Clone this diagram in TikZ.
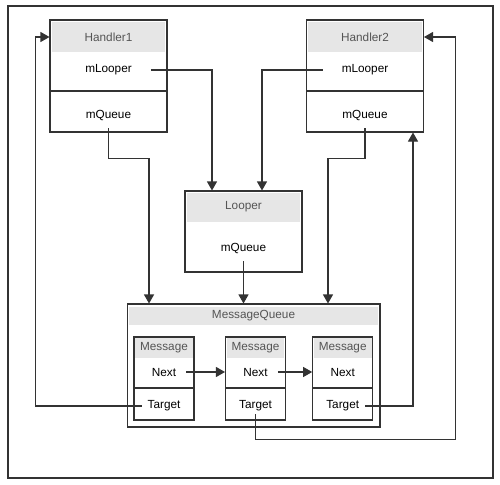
\documentclass[tikz,border=0pt]{standalone}
\usepackage{fontspec}
\setmainfont{Liberation Sans}
\usepackage{tikz}
\usetikzlibrary{arrows.meta}
\definecolor{ink}{HTML}{333333}
\definecolor{hdr}{HTML}{E6E6E6}
\definecolor{hdrtext}{HTML}{555555}
\begin{document}
\begin{tikzpicture}[x=0.02cm,y=-0.02cm,font=\fontsize{6.7}{8}\selectfont,
    box/.style={draw=ink,line width=.6pt,inner sep=0},
    head/.style={fill=hdr,text=hdrtext,inner sep=0},
    field/.style={inner sep=0,minimum width=1.68cm,minimum height=.52cm},
    slot/.style={inner sep=0,minimum width=.88cm,minimum height=.32cm},
    link/.style={draw=ink,line width=.6pt},
    tip/.style={link,-{Triangle[length=1.8mm,width=2mm]}}]
  \useasboundingbox (0,0) rectangle (500,484);
  \draw[link] (8,6) rectangle (493,478);
  % handlers
  \node[head,minimum width=2.28cm,minimum height=.6cm] (h1h) at (108.5,37) {Handler1};
  \node[box,minimum width=2.34cm,minimum height=1.42cm] (h1) at (108.5,55.5) {};
  \node[box,minimum width=2.34cm,minimum height=.82cm] (h1b) at (108.5,111.5) {};
  \node[field] (h1l) at (108.5,70) {mLooper};
  \node[field] (h1q) at (108.5,115) {mQueue};
  \node[head,minimum width=2.28cm,minimum height=.6cm] (h2h) at (365,37) {Handler2};
  \node[box,minimum width=2.34cm,minimum height=1.42cm] (h2) at (365,55.5) {};
  \node[box,minimum width=2.34cm,minimum height=.82cm] (h2b) at (365,111.5) {};
  \node[field] (h2l) at (365,70) {mLooper};
  \node[field] (h2q) at (365,115) {mQueue};
  % looper
  \node[head,minimum width=2.28cm,minimum height=.58cm] (lph) at (243.5,207) {Looper};
  \node[box,minimum width=2.34cm,minimum height=1.62cm] (lp) at (243.5,231.5) {};
  \node[field] (lq) at (243.5,248) {mQueue};
  % message queue
  \node[head,minimum width=4.98cm,minimum height=.36cm] (mqh) at (253.5,316) {MessageQueue};
  \node[box,minimum width=5.06cm,minimum height=2.46cm] (mq) at (253.5,365.5) {};
  \node[head,minimum width=1.16cm,minimum height=.4cm] (m1h) at (164,348) {Message};
  \node[box,minimum width=1.2cm,minimum height=1.02cm] (m1) at (164,362.5) {};
  \node[box,minimum width=1.2cm,minimum height=.64cm] (m1b) at (164,404) {};
  \node[slot] (n1) at (164,372) {Next};
  \node[slot] (t1) at (164,406) {Target};
  \node[head,minimum width=1.16cm,minimum height=.4cm] (m2h) at (255.5,348) {Message};
  \node[box,minimum width=1.2cm,minimum height=1.02cm] (m2) at (255.5,362.5) {};
  \node[box,minimum width=1.2cm,minimum height=.64cm] (m2b) at (255.5,404) {};
  \node[slot] (n2) at (255.5,372) {Next};
  \node[slot] (t2) at (255.5,406) {Target};
  \node[head,minimum width=1.16cm,minimum height=.4cm] (m3h) at (342.7,348) {Message};
  \node[box,minimum width=1.2cm,minimum height=1.02cm] (m3) at (342.7,362.5) {};
  \node[box,minimum width=1.2cm,minimum height=.64cm] (m3b) at (342.7,404) {};
  \node[slot] (n3) at (342.7,372) {Next};
  \node[slot] (t3) at (342.7,406) {Target};
  % references
  \draw[tip] (h1l.east) -| ([xshift=-.63cm]lp.north);
  \draw[tip] (h2l.west) -| ([xshift=.37cm]lp.north);
  \draw[tip] (h1q.south) -- ++(0,-.6cm) -| ([xshift=-2.09cm]mq.north);
  \draw[tip] (lq.south) -- (lq.south |- mq.north);
  \draw[tip] (h2q.south) -- ++(0,-.6cm) -| ([xshift=1.49cm]mq.north);
  \draw[tip] (n1.east) -- (n1.east -| m2.west);
  \draw[tip] (n2.east) -- (n2.east -| m3.west);
  \draw[tip] (t1.west) -- ++(-2.12cm,0) |- (h1.west |- h1h);
  \draw[tip] (t3.east) -| ([xshift=.96cm]h2b.south);
  \draw[tip] (t2.south) -- ++(0,-.5cm) -| ([xshift=.66cm]h2h.east) -- (h2.east |- h2h);
\end{tikzpicture}
\end{document}
